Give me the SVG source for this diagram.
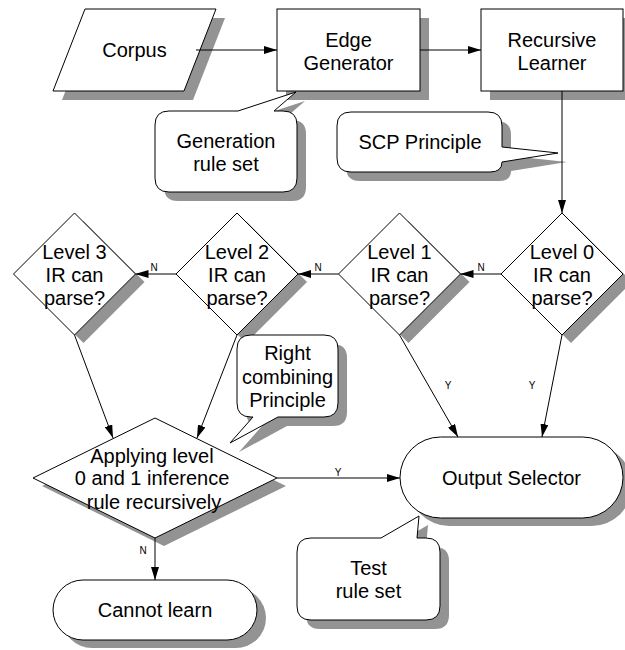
<svg xmlns="http://www.w3.org/2000/svg" width="625" height="650" viewBox="0 0 625 650">
<style>
  .shape { fill: #ffffff; stroke: #000000; stroke-width: 1; }
  .shadow { fill: #939393; stroke: none; }
  .txt { font-family: "Liberation Sans", Arial, sans-serif; font-size: 20px; fill: #000000; text-anchor: middle; }
  .lbl { font-family: "Liberation Sans", Arial, sans-serif; font-size: 10px; fill: #000000; text-anchor: middle; }
  .conn { fill: none; stroke: #000000; stroke-width: 1; }
</style>
<defs>
  <marker id="arrow" markerWidth="13" markerHeight="8" refX="13" refY="4" orient="auto" markerUnits="userSpaceOnUse">
    <path d="M0,0 L13,4 L0,8 Z" fill="#000000"/>
  </marker>
</defs>
<rect x="0" y="0" width="625" height="650" fill="#ffffff"/>

<g id="corpus">
  <polygon class="shadow" points="94,18 225,18 193,100 62,100"/>
  <polygon class="shape" points="85,9 216,9 184,91 53,91"/>
  <text class="txt" x="134.5" y="57">Corpus</text>
</g>

<g id="edge-generator">
  <rect class="shadow" x="286" y="18" width="143" height="82"/>
  <rect class="shape" x="277" y="9" width="143" height="82"/>
  <text class="txt" x="348.5" y="47">Edge</text>
  <text class="txt" x="348.5" y="70">Generator</text>
</g>

<g id="recursive-learner">
  <rect class="shadow" x="490" y="18" width="142" height="82"/>
  <rect class="shape" x="481" y="9" width="142" height="82"/>
  <text class="txt" x="552" y="47">Recursive</text>
  <text class="txt" x="552" y="70">Learner</text>
</g>

<g id="generation-rule-set">
  <path class="shadow" transform="translate(9,9)" d="M169,111 L238,111 L296,92 L274,111 L283,111 Q297,111 297,125 L297,178 Q297,192 283,192 L169,192 Q155,192 155,178 L155,125 Q155,111 169,111 Z"/>
  <path class="shape" d="M169,111 L238,111 L296,92 L274,111 L283,111 Q297,111 297,125 L297,178 Q297,192 283,192 L169,192 Q155,192 155,178 L155,125 Q155,111 169,111 Z"/>
  <text class="txt" x="226" y="148">Generation</text>
  <text class="txt" x="226" y="171">rule set</text>
</g>

<g id="scp-principle">
  <path class="shadow" transform="translate(9,9)" d="M351,112 L488,112 Q502,112 502,126 L502,147 L558,153 L502,162 Q502,172 490,172 L351,172 Q337,172 337,158 L337,126 Q337,112 351,112 Z"/>
  <path class="shape" d="M351,112 L488,112 Q502,112 502,126 L502,147 L558,153 L502,162 Q502,172 490,172 L351,172 Q337,172 337,158 L337,126 Q337,112 351,112 Z"/>
  <text class="txt" x="420" y="149">SCP Principle</text>
</g>

<g id="level-3">
  <polygon class="shadow" points="83.5,221 144.5,282 83.5,343 22.5,282"/>
  <polygon class="shape" points="74.5,213 135.5,274 74.5,335 13.5,274"/>
  <text class="txt" x="74.5" y="259">Level 3</text>
  <text class="txt" x="74.5" y="282">IR can</text>
  <text class="txt" x="74.5" y="305">parse?</text>
</g>

<g id="level-2">
  <polygon class="shadow" points="246,221 307,282 246,343 185,282"/>
  <polygon class="shape" points="237,213 298,274 237,335 176,274"/>
  <text class="txt" x="237" y="259">Level 2</text>
  <text class="txt" x="237" y="282">IR can</text>
  <text class="txt" x="237" y="305">parse?</text>
</g>

<g id="level-1">
  <polygon class="shadow" points="408.5,221 469.5,282 408.5,343 347.5,282"/>
  <polygon class="shape" points="399.5,213 460.5,274 399.5,335 338.5,274"/>
  <text class="txt" x="399.5" y="259">Level 1</text>
  <text class="txt" x="399.5" y="282">IR can</text>
  <text class="txt" x="399.5" y="305">parse?</text>
</g>

<g id="level-0">
  <polygon class="shadow" points="571,221 632,282 571,343 510,282"/>
  <polygon class="shape" points="562,213 623,274 562,335 501,274"/>
  <text class="txt" x="562" y="259">Level 0</text>
  <text class="txt" x="562" y="282">IR can</text>
  <text class="txt" x="562" y="305">parse?</text>
</g>

<g id="right-combining-principle">
  <path class="shadow" transform="translate(9,9)" d="M251,335 L324,335 Q338,335 338,349 L338,403 Q338,417 324,417 L278,417 L230,443 L253,417 L251,417 Q237,417 237,403 L237,349 Q237,335 251,335 Z"/>
  <path class="shape" d="M251,335 L324,335 Q338,335 338,349 L338,403 Q338,417 324,417 L278,417 L230,443 L253,417 L251,417 Q237,417 237,403 L237,349 Q237,335 251,335 Z"/>
  <text class="txt" x="287.5" y="360">Right</text>
  <text class="txt" x="287.5" y="384">combining</text>
  <text class="txt" x="287.5" y="407">Principle</text>
</g>

<g id="applying">
  <polygon class="shadow" points="164,426 286,486 164,546 42,486"/>
  <polygon class="shape" points="155,418 277,478 155,538 33,478"/>
  <text class="txt" x="152" y="463">Applying level</text>
  <text class="txt" x="152" y="485">0 and 1 inference</text>
  <text class="txt" x="154" y="509">rule recursively</text>
</g>

<g id="test-rule-set">
  <path class="shadow" transform="translate(9,9)" d="M311,538 L381,538 L419,516 L417,538 L426,538 Q440,538 440,552 L440,606 Q440,620 426,620 L311,620 Q297,620 297,606 L297,552 Q297,538 311,538 Z"/>
  <path class="shape" d="M311,538 L381,538 L419,516 L417,538 L426,538 Q440,538 440,552 L440,606 Q440,620 426,620 L311,620 Q297,620 297,606 L297,552 Q297,538 311,538 Z"/>
  <text class="txt" x="368.5" y="575">Test</text>
  <text class="txt" x="368.5" y="598">rule set</text>
</g>

<g id="output-selector">
  <rect class="shadow" x="409" y="445" width="223" height="81" rx="40.5" ry="40.5"/>
  <rect class="shape" x="400" y="437" width="223" height="81" rx="40.5" ry="40.5"/>
  <text class="txt" x="511.5" y="485">Output Selector</text>
</g>

<g id="cannot-learn">
  <rect class="shadow" x="62" y="588" width="204" height="60" rx="30" ry="30"/>
  <rect class="shape" x="53" y="580" width="204" height="60" rx="30" ry="30"/>
  <text class="txt" x="155" y="617">Cannot learn</text>
</g>

<g id="connectors">
  <line class="conn" x1="196" y1="50" x2="277" y2="50" marker-end="url(#arrow)"/>
  <line class="conn" x1="420" y1="50" x2="481" y2="50" marker-end="url(#arrow)"/>
  <line class="conn" x1="562" y1="91" x2="562" y2="213" marker-end="url(#arrow)"/>
  <line class="conn" x1="501" y1="274" x2="460.5" y2="274" marker-end="url(#arrow)"/>
  <line class="conn" x1="338.5" y1="274" x2="298" y2="274" marker-end="url(#arrow)"/>
  <line class="conn" x1="176" y1="274" x2="135.5" y2="274" marker-end="url(#arrow)"/>
  <line class="conn" x1="74.5" y1="335" x2="113" y2="438" marker-end="url(#arrow)"/>
  <line class="conn" x1="237" y1="335" x2="197" y2="438" marker-end="url(#arrow)"/>
  <line class="conn" x1="399.5" y1="335" x2="458" y2="437" marker-end="url(#arrow)"/>
  <line class="conn" x1="562" y1="335" x2="542" y2="437" marker-end="url(#arrow)"/>
  <line class="conn" x1="277" y1="478" x2="400" y2="478" marker-end="url(#arrow)"/>
  <line class="conn" x1="155" y1="538" x2="155" y2="580" marker-end="url(#arrow)"/>
  <text class="lbl" x="481" y="271">N</text>
  <text class="lbl" x="318" y="271">N</text>
  <text class="lbl" x="154" y="271">N</text>
  <text class="lbl" x="448" y="389">Y</text>
  <text class="lbl" x="532" y="389">Y</text>
  <text class="lbl" x="338" y="476">Y</text>
  <text class="lbl" x="143" y="554">N</text>
</g>
</svg>
